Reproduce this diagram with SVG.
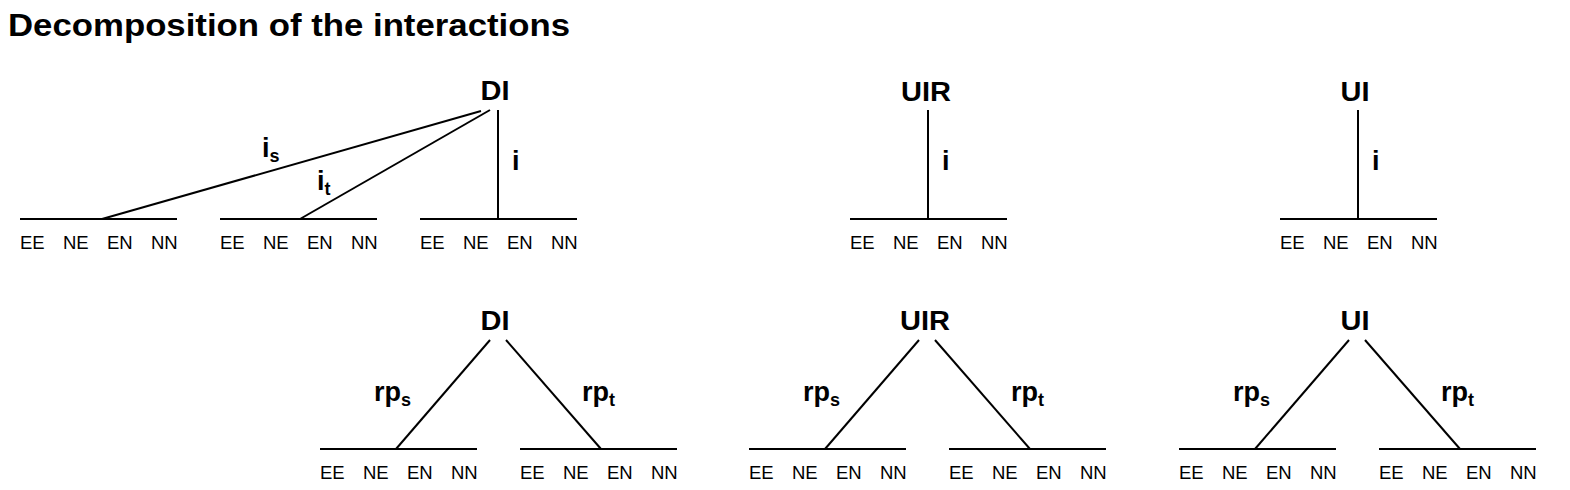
<svg xmlns="http://www.w3.org/2000/svg" width="1570" height="490" viewBox="0 0 1570 490">
<style>
.ln{stroke:#000;stroke-width:2;fill:none}
.t{font-family:"Liberation Sans",Arial,sans-serif;fill:#000}
.lab{font-size:18.5px}
.node{font-size:27px;font-weight:bold;text-anchor:middle}
.el{font-size:27px;font-weight:bold}
.sub{font-size:18px}
.title{font-size:31px;font-weight:bold}
</style>
<rect width="1570" height="490" fill="#fff"/>
<text class="t title" x="8" y="36" textLength="562" lengthAdjust="spacingAndGlyphs">Decomposition of the interactions</text>

<defs>
<g id="bar">
<line class="ln" x1="0" y1="0" x2="157" y2="0"/>
<text class="t lab" x="0" y="30">EE</text>
<text class="t lab" x="43" y="30">NE</text>
<text class="t lab" x="87" y="30">EN</text>
<text class="t lab" x="131" y="30">NN</text>
</g>
</defs>

<g id="bars">
<use href="#bar" x="20" y="219"/>
<use href="#bar" x="220" y="219"/>
<use href="#bar" x="420" y="219"/>
<use href="#bar" x="850" y="219"/>
<use href="#bar" x="1280" y="219"/>
<use href="#bar" x="320" y="449"/>
<use href="#bar" x="520" y="449"/>
<use href="#bar" x="749" y="449"/>
<use href="#bar" x="949" y="449"/>
<use href="#bar" x="1179" y="449"/>
<use href="#bar" x="1379" y="449"/>
</g>

<g id="node-DI-top"><text class="t node" x="495" y="100" textLength="29" lengthAdjust="spacingAndGlyphs">DI</text></g>
<g id="node-UIR-top"><text class="t node" x="926" y="101" textLength="50" lengthAdjust="spacingAndGlyphs">UIR</text></g>
<g id="node-UI-top"><text class="t node" x="1355" y="101" textLength="29" lengthAdjust="spacingAndGlyphs">UI</text></g>
<g id="node-DI-bot"><text class="t node" x="495" y="330" textLength="29" lengthAdjust="spacingAndGlyphs">DI</text></g>
<g id="node-UIR-bot"><text class="t node" x="925" y="330" textLength="50" lengthAdjust="spacingAndGlyphs">UIR</text></g>
<g id="node-UI-bot"><text class="t node" x="1355" y="330" textLength="29" lengthAdjust="spacingAndGlyphs">UI</text></g>

<g id="connectors">
<line class="ln" x1="481" y1="111" x2="102" y2="219"/>
<line class="ln" x1="490" y1="110" x2="300" y2="219"/>
<line class="ln" x1="498" y1="110" x2="498" y2="219"/>
<line class="ln" x1="928" y1="110" x2="928" y2="219"/>
<line class="ln" x1="1358" y1="110" x2="1358" y2="219"/>
<line class="ln" x1="490" y1="340" x2="396" y2="449"/>
<line class="ln" x1="506" y1="340" x2="601" y2="449"/>
<line class="ln" x1="919" y1="340" x2="825" y2="449"/>
<line class="ln" x1="935" y1="340" x2="1030" y2="449"/>
<line class="ln" x1="1349" y1="340" x2="1255" y2="449"/>
<line class="ln" x1="1365" y1="340" x2="1460" y2="449"/>
</g>

<g id="edge-labels">
<text class="t el" x="262" y="157">i<tspan class="sub" dy="5">s</tspan></text>
<text class="t el" x="317" y="190">i<tspan class="sub" dy="5">t</tspan></text>
<text class="t el" x="512" y="170">i</text>
<text class="t el" x="942" y="170">i</text>
<text class="t el" x="1372" y="170">i</text>
<text class="t el" x="374" y="401">rp<tspan class="sub" dy="5">s</tspan></text>
<text class="t el" x="582" y="401">rp<tspan class="sub" dy="5">t</tspan></text>
<text class="t el" x="803" y="401">rp<tspan class="sub" dy="5">s</tspan></text>
<text class="t el" x="1011" y="401">rp<tspan class="sub" dy="5">t</tspan></text>
<text class="t el" x="1233" y="401">rp<tspan class="sub" dy="5">s</tspan></text>
<text class="t el" x="1441" y="401">rp<tspan class="sub" dy="5">t</tspan></text>
</g>
</svg>
